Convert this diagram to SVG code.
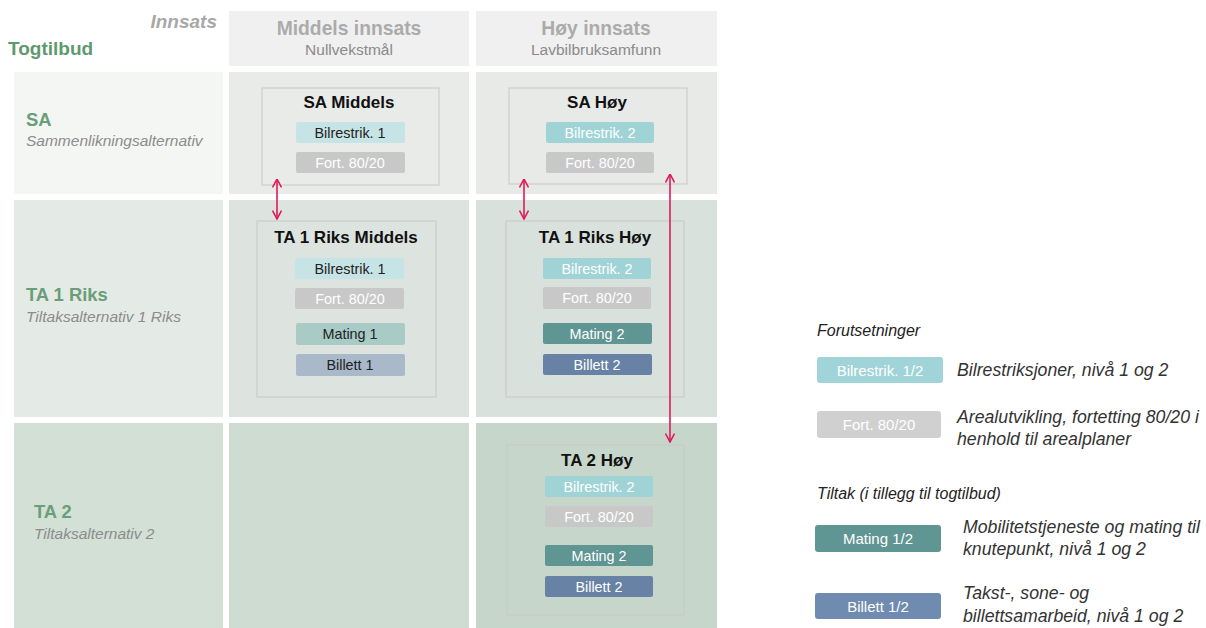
<svg xmlns="http://www.w3.org/2000/svg" width="1206" height="628" viewBox="0 0 1206 628">
<style>
text{font-family:"Liberation Sans",Arial,sans-serif}
.hdr{fill:#f0f0f0}
.htitle{font-size:19.3px;font-weight:bold;fill:#ababab;text-anchor:middle}
.hsub{font-size:15.5px;fill:#8a8a8a;text-anchor:middle}
.rlab{font-size:18.4px;font-weight:bold;fill:#6a9e78}
.rsub{font-size:15.5px;font-style:italic;fill:#8c8c8c}
.box{fill:none;stroke:#c6c8c6;stroke-width:1}
.btitle{font-size:17px;font-weight:bold;fill:#111;text-anchor:middle}
.pt{font-size:14.4px;text-anchor:middle}
.lpt{font-size:15px;text-anchor:middle;fill:#fff}
.dark{fill:#222}
.white{fill:#fff}
.lt{font-size:17.7px;font-style:italic;fill:#333}
.lh{font-size:16px;font-style:italic;fill:#222}
.conn{stroke:#e0185c;stroke-width:1.6;fill:none}
</style>
<defs>
<marker id="arr" viewBox="0 0 10 10" refX="9.5" refY="5" markerWidth="10" markerHeight="10" markerUnits="userSpaceOnUse" orient="auto-start-reverse">
<path d="M1,0.5 L9.5,5 L1,9.5" fill="none" stroke="#e0185c" stroke-width="1.6"/>
</marker>
</defs>
<rect width="1206" height="628" fill="#ffffff"/>

<g id="header">
<text x="217" y="28" font-size="19" font-weight="bold" font-style="italic" fill="#a8a8a8" text-anchor="end">Innsats</text>
<text x="8" y="55" font-size="19" font-weight="bold" fill="#5f9a6e">Togtilbud</text>
<g id="col-middels">
<rect class="hdr" x="229" y="11" width="240" height="55"/>
<text class="htitle" x="349" y="35">Middels innsats</text>
<text class="hsub" x="349" y="55">Nullvekstmål</text>
</g>
<g id="col-hoy">
<rect class="hdr" x="476" y="11" width="241" height="55"/>
<text class="htitle" x="596" y="35">Høy innsats</text>
<text class="hsub" x="596" y="55">Lavbilbruksamfunn</text>
</g>
</g>

<g id="row-SA">
<rect x="14" y="72" width="209" height="122" fill="#f4f6f4"/>
<rect x="229" y="72" width="240" height="122" fill="#e9ebe9"/>
<rect x="476" y="72" width="241" height="122" fill="#e8eae8"/>
<text class="rlab" x="26" y="126">SA</text>
<text class="rsub" x="26" y="146">Sammenlikningsalternativ</text>
</g>
<g id="row-TA1">
<rect x="14" y="200" width="209" height="217" fill="#e4eae6"/>
<rect x="229" y="200" width="240" height="217" fill="#dde4e0"/>
<rect x="476" y="200" width="241" height="217" fill="#d9e1dc"/>
<text class="rlab" x="26" y="301">TA 1 Riks</text>
<text class="rsub" x="26" y="322">Tiltaksalternativ 1 Riks</text>
</g>
<g id="row-TA2">
<rect x="14" y="423" width="209" height="205" fill="#d2e0d6"/>
<rect x="229" y="423" width="240" height="205" fill="#cedcd2"/>
<rect x="476" y="423" width="241" height="205" fill="#c7d6cb"/>
<text class="rlab" x="34" y="518">TA 2</text>
<text class="rsub" x="34" y="539">Tiltaksalternativ 2</text>
</g>

<g id="node-sa-middels">
<rect class="box" x="262" y="88" width="177" height="97"/>
<text class="btitle" x="349" y="108">SA Middels</text>
<rect x="296" y="122" width="109" height="21" rx="2" fill="#c6e3e5"/>
<text class="pt dark" x="350" y="137.5">Bilrestrik. 1</text>
<rect x="296" y="152" width="109" height="21" rx="2" fill="#c8c8c8"/>
<text class="pt white" x="350" y="167.5">Fort. 80/20</text>
</g>

<g id="node-sa-hoy">
<rect class="box" x="509" y="88" width="178" height="96"/>
<text class="btitle" x="597" y="108">SA Høy</text>
<rect x="546" y="122" width="108" height="21" rx="2" fill="#9fd3d6"/>
<text class="pt white" x="600" y="137.5">Bilrestrik. 2</text>
<rect x="546" y="152" width="108" height="21" rx="2" fill="#c8c8c8"/>
<text class="pt white" x="600" y="167.5">Fort. 80/20</text>
</g>

<g id="node-ta1-middels">
<rect class="box" x="257" y="221" width="179" height="176"/>
<text class="btitle" x="346" y="243">TA 1 Riks Middels</text>
<rect x="295" y="258" width="109" height="21" rx="2" fill="#c6e3e5"/>
<text class="pt dark" x="350" y="273.5">Bilrestrik. 1</text>
<rect x="295" y="288" width="109" height="21" rx="2" fill="#c8c8c8"/>
<text class="pt white" x="350" y="303.5">Fort. 80/20</text>
<rect x="296" y="323" width="109" height="22" rx="2" fill="#a8cbc6"/>
<text class="pt dark" x="350" y="339">Mating 1</text>
<rect x="296" y="354" width="109" height="22" rx="2" fill="#a9b9c9"/>
<text class="pt dark" x="350" y="370">Billett 1</text>
</g>

<g id="node-ta1-hoy">
<rect class="box" x="506" y="221" width="178" height="176"/>
<text class="btitle" x="595" y="243">TA 1 Riks Høy</text>
<rect x="543" y="258" width="108" height="21" rx="2" fill="#9fd3d6"/>
<text class="pt white" x="597" y="273.5">Bilrestrik. 2</text>
<rect x="543" y="287" width="108" height="22" rx="2" fill="#c8c8c8"/>
<text class="pt white" x="597" y="303">Fort. 80/20</text>
<rect x="543" y="323" width="109" height="21" rx="2" fill="#5f9592"/>
<text class="pt white" x="597" y="339">Mating 2</text>
<rect x="543" y="354" width="109" height="21" rx="2" fill="#6782a5"/>
<text class="pt white" x="597" y="370">Billett 2</text>
</g>

<g id="node-ta2-hoy">
<rect class="box" x="507" y="445" width="177" height="170"/>
<text class="btitle" x="597" y="466">TA 2 Høy</text>
<rect x="545" y="476" width="108" height="21" rx="2" fill="#9fd3d6"/>
<text class="pt white" x="599" y="491.5">Bilrestrik. 2</text>
<rect x="545" y="506" width="108" height="21" rx="2" fill="#c8c8c8"/>
<text class="pt white" x="599" y="521.5">Fort. 80/20</text>
<rect x="545" y="545" width="108" height="21" rx="2" fill="#5f9592"/>
<text class="pt white" x="599" y="560.5">Mating 2</text>
<rect x="545" y="576" width="108" height="21" rx="2" fill="#6782a5"/>
<text class="pt white" x="599" y="591.5">Billett 2</text>
</g>

<g id="connectors">
<line class="conn" x1="277" y1="179" x2="277" y2="219" marker-start="url(#arr)" marker-end="url(#arr)"/>
<line class="conn" x1="524" y1="179" x2="524" y2="219" marker-start="url(#arr)" marker-end="url(#arr)"/>
<line class="conn" x1="670" y1="174" x2="670" y2="442" marker-start="url(#arr)" marker-end="url(#arr)"/>
</g>

<g id="legend">
<text class="lh" x="817" y="336">Forutsetninger</text>
<g id="legend-bilrestrik">
<rect x="817" y="357" width="126" height="26" rx="3" fill="#a0d4d8"/>
<text class="lpt" x="880" y="375.5">Bilrestrik. 1/2</text>
<text class="lt" x="957" y="376">Bilrestriksjoner, nivå 1 og 2</text>
</g>
<g id="legend-fort">
<rect x="817" y="411" width="124" height="27" rx="3" fill="#d0d0d0"/>
<text class="lpt" x="879" y="429.5">Fort. 80/20</text>
<text class="lt" x="957" y="423">Arealutvikling, fortetting 80/20 i</text>
<text class="lt" x="957" y="445">henhold til arealplaner</text>
</g>
<text class="lh" x="817" y="499">Tiltak (i tillegg til togtilbud)</text>
<g id="legend-mating">
<rect x="815" y="525" width="126" height="27" rx="3" fill="#5f9592"/>
<text class="lpt" x="878" y="543.5">Mating 1/2</text>
<text class="lt" x="963" y="533">Mobilitetstjeneste og mating til</text>
<text class="lt" x="963" y="555">knutepunkt, nivå 1 og 2</text>
</g>
<g id="legend-billett">
<rect x="815" y="593" width="126" height="26" rx="3" fill="#6f8bb0"/>
<text class="lpt" x="878" y="611.5">Billett 1/2</text>
<text class="lt" x="963" y="599">Takst-, sone- og</text>
<text class="lt" x="963" y="622">billettsamarbeid, nivå 1 og 2</text>
</g>
</g>
</svg>
